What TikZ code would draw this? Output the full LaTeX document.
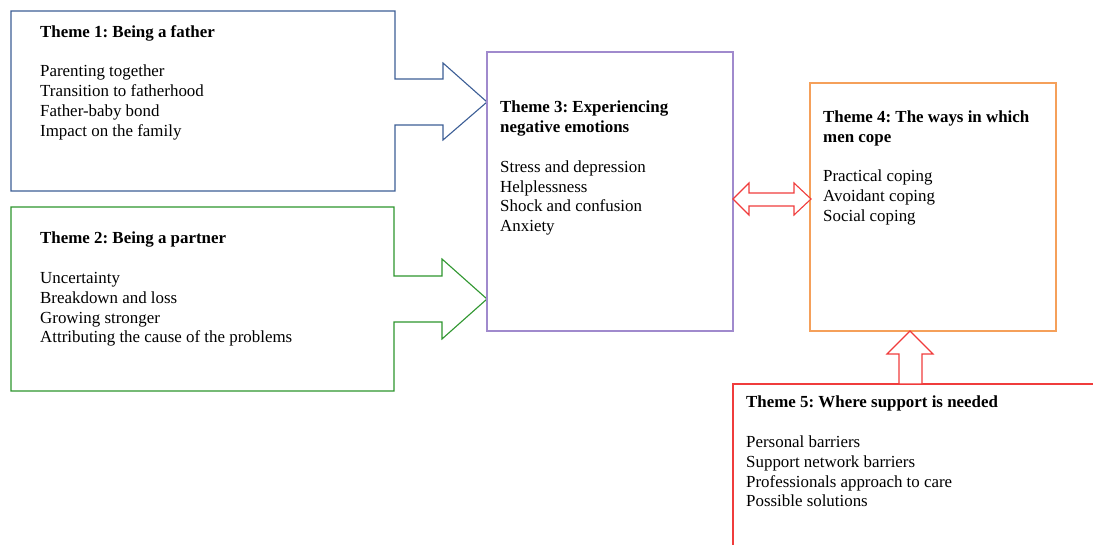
\documentclass[tikz,border=0pt]{standalone}
\usepackage{fontspec}
\setmainfont{Liberation Serif}
\frenchspacing
\begin{document}
\begin{tikzpicture}[x=1pt,y=-1pt,
  line join=miter,
  shapeline/.style={line width=1.1pt},
  themetext/.style={anchor=north west,inner sep=0pt,align=left,
    font=\fontsize{16.9}{19.8}\selectfont\frenchspacing,text=black}]
\definecolor{tblue}{RGB}{60,94,150}
\definecolor{tgreen}{RGB}{46,150,46}
\definecolor{tpurple}{RGB}{160,138,205}
\definecolor{torange}{RGB}{245,160,90}
\definecolor{tred}{RGB}{240,60,60}
\useasboundingbox (0,0) rectangle (1093,545);
\clip (0,0) rectangle (1093,545);
\fill[white] (0,0) rectangle (1093,545);
% Theme 1 box with arrow
\draw[shapeline,tblue] (11,11) -- (395,11) -- (395,79) -- (443,79) -- (443,63) -- (487,102)
  -- (443,140) -- (443,125) -- (395,125) -- (395,191) -- (11,191) -- cycle;
% Theme 2 box with arrow
\draw[shapeline,tgreen] (11,207) -- (394,207) -- (394,276) -- (442,276) -- (442,259) -- (487,299)
  -- (442,339) -- (442,322) -- (394,322) -- (394,391) -- (11,391) -- cycle;
% Theme 3 box
\draw[shapeline,tpurple] (487,52) rectangle (733,331);
% Theme 4 box
\draw[shapeline,torange] (810,83) rectangle (1056,331);
% Theme 5 box
\draw[shapeline,tred] (733,384) rectangle (1110,560);
% double arrow
\draw[shapeline,tred,fill=white] (733,199) -- (749,183) -- (749,193) -- (794,193) -- (794,183) -- (811,199)
  -- (794,215) -- (794,206) -- (749,206) -- (749,215) -- cycle;
% up arrow
\draw[shapeline,tred,fill=white] (910,331) -- (933,354) -- (922,354) -- (922,384) -- (899,384)
  -- (899,354) -- (887,354) -- cycle;
% texts
\node[themetext] (t1) at (40,25) {\textbf{Theme 1: Being a father}\\[19.8pt]
  Parenting together\\ Transition to fatherhood\\ Father-baby bond\\ Impact on the family};
\node[themetext] (t2) at (40,232) {\textbf{Theme 2: Being a partner}\\[19.8pt]
  Uncertainty\\ Breakdown and loss\\ Growing stronger\\ Attributing the cause of the problems};
\node[themetext] (t3) at (500,101) {\textbf{Theme 3: Experiencing}\\ \textbf{negative emotions}\\[19.8pt]
  Stress and depression\\ Helplessness\\ Shock and confusion\\ Anxiety};
\node[themetext] (t4) at (823,111) {\textbf{Theme 4: The ways in which}\\ \textbf{men cope}\\[19pt]
  Practical coping\\ Avoidant coping\\ Social coping};
\node[themetext] (t5) at (746,396) {\textbf{Theme 5: Where support is needed}\\[19.8pt]
  Personal barriers\\ Support network barriers\\ Professionals approach to care\\ Possible solutions};
\end{tikzpicture}
\end{document}
